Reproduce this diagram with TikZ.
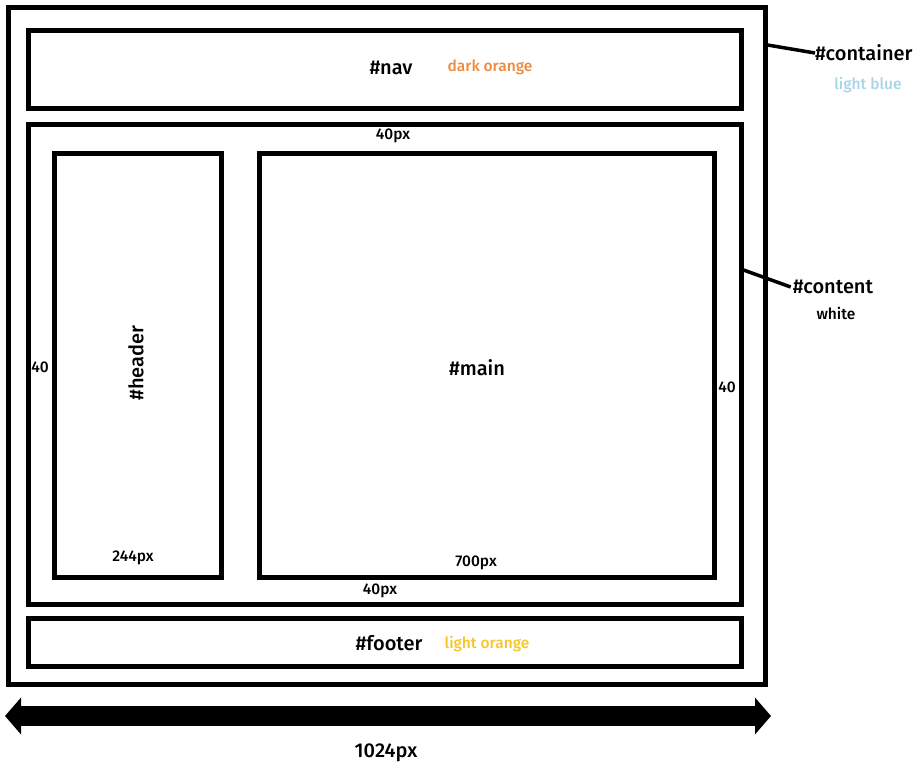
\documentclass[tikz,border=0pt]{standalone}
\usepackage{fontspec}
\setmainfont{Fira Sans Medium}
\usetikzlibrary{arrows.meta}
\definecolor{darkor}{RGB}{238,138,62}
\definecolor{lightbl}{RGB}{168,214,230}
\definecolor{lightor}{RGB}{246,198,40}
\begin{document}
\begin{tikzpicture}[x=1pt,y=-1pt,
  box/.style={draw,line width=5pt,inner sep=0pt,rectangle},
  big/.style={font=\fontsize{20}{21}\selectfont,inner sep=0pt},
  small/.style={font=\fontsize{15.5}{16}\selectfont,inner sep=0pt},
  lead/.style={line width=3.5pt}]
\useasboundingbox (0,0) rectangle (922,774);
\node[box,minimum width=757pt,minimum height=677pt] (container) at (386.5,346) {};
\node[box,minimum width=713pt,minimum height=78pt] (nav) at (384.5,69) {};
\node[box,minimum width=713pt,minimum height=480pt] (content) at (384.5,364) {};
\node[box,minimum width=167pt,minimum height=424pt] (header) at (137.5,365) {};
\node[box,minimum width=455pt,minimum height=424pt] (main) at (486.5,365) {};
\node[box,minimum width=713pt,minimum height=48pt] (footer) at (384.5,642) {};
% labels
\node[big] (navl) at (391,68) {\#nav};
\node[small,text=darkor] (navc) at (490,67) {dark orange};
\node[big,anchor=west] (contl) at (815,53) {\#container};
\node[small,text=lightbl] (contc) at (868,85) {light blue};
\node[big] (contentl) at (833,287) {\#content};
\node[small] (contentc) at (836,313) {white};
\node[small] (tp) at (393,136) {40px};
\node[small] (lp) at (40,367) {40};
\node[big,rotate=90] (headl) at (136,363) {\#header};
\node[big] (mainl) at (477,368) {\#main};
\node[small] (rp) at (727,387) {40};
\node[small] (hw) at (133,558) {244px};
\node[small] (mw) at (476,563) {700px};
\node[small] (bp) at (380,591) {40px};
\node[big] (footl) at (389,643) {\#footer};
\node[small,text=lightor] (footc) at (487,644) {light orange};
\node[big] (width) at (386,753) {1024px};
% leader lines
\coordinate (ce) at (767.5,45);
\coordinate (ke) at (743.5,270);
\draw[lead] (ce) -- (contl.west);
\draw[lead] (ke) -- ([xshift=-2pt]contentl.west);
% width arrow
\coordinate (al) at (5,716);
\coordinate (ar) at (771,716);
\draw[line width=20pt,{Triangle[width=36pt,length=16pt]}-{Triangle[width=36pt,length=16pt]}] (al) -- (ar);
\end{tikzpicture}
\end{document}
